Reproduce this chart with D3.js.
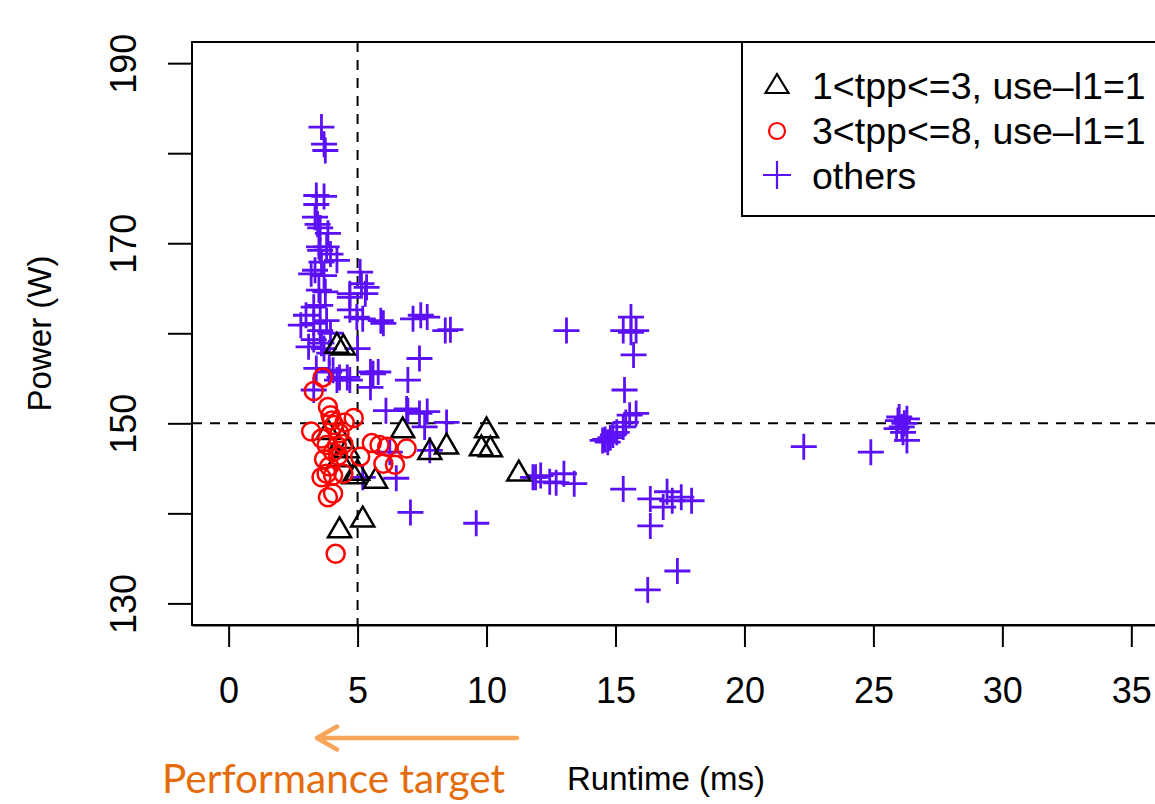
<!DOCTYPE html>
<html>
<head>
<meta charset="utf-8">
<script src="https://cdn.jsdelivr.net/npm/d3@7"></script>
<style>
  body { margin: 0; background: #fff; }
  svg { display: block; font-family: "Liberation Sans", Arial, sans-serif; }
</style>
</head>
<body>
<svg id="chart" width="1155" height="804"></svg>
<script>
// runtime (ms), power (W)
var triangles = [
  [4.2,158.6],[4.45,158.4],[3.85,149.0],[4.4,148.0],[4.6,147.0],[6.75,149.2],[7.8,146.8],
  [8.45,147.4],[10.0,149.2],[9.8,147.2],[10.15,147.1],[11.25,144.4],[4.85,144.1],[5.0,144.5],
  [5.7,143.6],[5.2,139.3],[4.3,138.1],[4.3,146.0]
];

var circles = [
  [3.65,155.1],[3.3,153.6],[3.85,151.8],[3.95,150.9],[4.5,150.1],[4.85,150.6],[3.2,149.1],
  [4.1,149.8],[4.3,148.9],[3.8,147.6],[4.45,147.7],[4.05,146.8],[4.25,146.4],[5.1,146.3],
  [5.55,147.8],[5.85,147.6],[6.15,147.4],[6.9,147.2],[6.0,145.5],[6.45,145.4],[3.8,144.4],
  [4.05,144.2],[4.45,144.4],[3.6,144.0],[3.85,141.8],[4.05,142.2],[4.15,135.5],[3.7,146.0],
  [3.9,145.2],[4.2,147.5],[3.6,148.3],[4.0,150.3]
];

var crosses = [
  [3.6,182.9],[3.7,181.0],[3.75,180.3],[3.4,175.3],[3.7,175.2],[3.4,174.3],[3.35,172.9],
  [3.45,172.1],[3.55,171.7],[3.85,171.1],[3.5,169.6],[3.8,169.6],[3.55,169.2],[3.95,168.8],
  [4.2,168.1],[3.6,167.9],[3.35,167.0],[3.2,166.6],[3.7,166.4],[5.1,166.8],[5.15,165.5],
  [5.35,165.1],[5.3,164.4],[3.5,164.8],[3.75,164.6],[4.7,164.4],[4.7,164.0],[3.3,162.9],
  [3.55,163.1],[3.0,162.0],[2.8,160.9],[3.3,161.1],[3.8,161.4],[3.55,160.3],[3.95,160.0],
  [4.7,162.6],[4.97,161.8],[5.2,161.6],[5.9,161.4],[6.0,161.1],[7.15,161.6],[7.45,162.0],
  [7.7,161.8],[8.4,160.3],[8.6,160.4],[3.7,158.3],[3.1,158.5],[3.9,157.8],[3.3,159.3],
  [3.6,158.9],[5.0,158.3],[7.4,157.2],[3.9,155.7],[4.3,155.1],[4.7,154.8],[4.2,154.8],
  [4.05,155.9],[3.4,156.1],[4.6,155.1],[5.5,155.7],[5.8,155.7],[5.6,155.5],[5.5,154.0],
  [6.95,154.8],[3.3,153.7],[6.1,151.4],[6.9,151.6],[6.95,151.4],[7.4,151.1],[7.7,151.3],
  [7.6,149.6],[8.45,150.1],[7.8,147.0],[6.25,146.8],[6.5,143.9],[5.2,144.0],[7.05,140.1],
  [9.6,138.9],[11.9,144.0],
  [13.1,160.3],[15.3,160.3],[15.6,160.1],[15.8,160.3],[15.6,161.8],[15.7,157.6],[15.35,153.7],
  [15.8,151.1],[15.55,150.9],[15.4,150.1],[15.3,149.6],[15.05,149.0],[14.9,148.7],[14.8,148.4],
  [14.6,148.2],[14.7,147.9],[14.5,148.1],[12.1,144.2],[12.45,143.5],[13.0,144.4],[13.4,143.3],
  [11.8,144.0],[12.7,143.4],[15.3,142.7],[16.35,141.6],[17.0,142.4],[16.85,140.7],[17.2,141.4],
  [17.55,141.8],[17.95,141.4],[16.35,138.6],[17.4,133.6],[16.25,131.5],
  [22.3,147.4],[24.9,146.8],[26.0,150.7],[25.95,150.3],[26.2,150.0],[26.1,149.6],[26.15,149.0],
  [26.3,148.1],[26.3,150.5],[25.9,149.4]
];

var xTicks = [0, 5, 10, 15, 20, 25, 30, 35];
var yTicks = [130, 150, 170, 190];
var yMinor = [140, 160, 180];
var legendLabels = ["1<tpp<=3, use\u2013l1=1", "3<tpp<=8, use\u2013l1=1", "others"];
var refRuntime = 5, refPower = 150, targetRuntime = 10;

var svg = d3.select("svg#chart"),
    margin = {top: 42, left: 192, bottom: 625, right: 1170};

var x = d3.scaleLinear().domain([-1.42, 36.5]).range([margin.left, margin.right]);
var y = d3.scaleLinear().domain([127.6, 192.35]).range([margin.bottom, margin.top]);

var purple = "#5b10f5", red = "#ff0000";

// plot box
svg.append("rect")
    .attr("x", margin.left).attr("y", margin.top)
    .attr("width", margin.right - margin.left).attr("height", margin.bottom - margin.top)
    .attr("fill", "none").attr("stroke", "#000").attr("stroke-width", 2);

// x axis (R style, ticks below the box)
var xa = svg.append("g").attr("transform", "translate(0," + margin.bottom + ")")
    .call(d3.axisBottom(x).tickValues(xTicks).tickSize(22).tickSizeOuter(0));
xa.select(".domain").attr("stroke-width", 2);
xa.selectAll(".tick line").attr("stroke-width", 2);
xa.selectAll(".tick text")
    .attr("font-size", 36).attr("font-family", "Liberation Sans").attr("fill", "#000")
    .attr("y", 78).attr("dy", 0);

var ya = svg.append("g").attr("transform", "translate(" + margin.left + ",0)")
    .call(d3.axisLeft(y).tickValues(yTicks.concat(yMinor)).tickSize(24).tickSizeOuter(0)
      .tickFormat(function(d) { return yTicks.indexOf(d) >= 0 ? d : ""; }));
ya.select(".domain").remove();
ya.selectAll(".tick line").attr("stroke-width", 2);
ya.selectAll(".tick text")
    .attr("font-size", 36).attr("font-family", "Liberation Sans").attr("fill", "#000")
    .attr("text-anchor", "middle").attr("x", 0).attr("dy", 0)
    .attr("transform", "translate(-69,0) rotate(-90)")
    .attr("dominant-baseline", "central");

// axis titles
svg.append("text").attr("x", 567).attr("y", 790)
    .attr("font-size", 33).text("Runtime (ms)");
svg.append("text")
    .attr("transform", "translate(51," + ((margin.top + margin.bottom) / 2) + ") rotate(-90)")
    .attr("text-anchor", "middle").attr("font-size", 33).text("Power (W)");

// reference lines
svg.append("line")
    .attr("x1", margin.left).attr("x2", margin.right)
    .attr("y1", y(refPower)).attr("y2", y(refPower))
    .attr("stroke", "#000").attr("stroke-width", 2).attr("stroke-dasharray", "10,8");
svg.append("line")
    .attr("x1", x(refRuntime)).attr("x2", x(refRuntime))
    .attr("y1", margin.top).attr("y2", margin.bottom)
    .attr("stroke", "#000").attr("stroke-width", 2).attr("stroke-dasharray", "10,8");

// points
var plot = svg.append("g");

plot.selectAll("path.cross").data(crosses).enter().append("path")
    .attr("class", "cross")
    .attr("d", function(d) {
      var cx = x(d[0]), cy = y(d[1]), r = 13;
      return "M" + (cx - r) + "," + cy + "H" + (cx + r) + "M" + cx + "," + (cy - r) + "V" + (cy + r);
    })
    .attr("stroke", purple).attr("stroke-width", 2.8).attr("fill", "none");

function triPath(cx, cy) {
  return "M" + cx + "," + (cy - 13) + "L" + (cx + 11.5) + "," + (cy + 6.8) + "L" + (cx - 11.5) + "," + (cy + 6.8) + "Z";
}

plot.selectAll("path.tri").data(triangles).enter().append("path")
    .attr("class", "tri")
    .attr("d", function(d) { return triPath(x(d[0]), y(d[1])); })
    .attr("stroke", "#000").attr("stroke-width", 2.5).attr("fill", "none");

plot.selectAll("circle").data(circles).enter().append("circle")
    .attr("cx", function(d) { return x(d[0]); })
    .attr("cy", function(d) { return y(d[1]); })
    .attr("r", 9)
    .attr("stroke", red).attr("stroke-width", 2.5).attr("fill", "none");

// legend
var lg = svg.append("g");
lg.append("rect").attr("x", 742).attr("y", margin.top).attr("width", 500).attr("height", 174)
    .attr("fill", "#fff").attr("stroke", "#000").attr("stroke-width", 2);
var rowY = [85, 130, 175];
lg.append("path").attr("d", "M777,74L788.5,93L765.5,93Z")
    .attr("fill", "none").attr("stroke", "#000").attr("stroke-width", 2.2);
lg.append("circle").attr("cx", 777).attr("cy", rowY[1] + 1).attr("r", 8)
    .attr("fill", "none").attr("stroke", red).attr("stroke-width", 2.2);
lg.append("path").attr("d", "M763," + rowY[2] + "H791M777," + (rowY[2] - 14) + "V" + (rowY[2] + 14))
    .attr("fill", "none").attr("stroke", purple).attr("stroke-width", 2.2);
lg.selectAll("text").data(legendLabels).enter().append("text")
    .attr("x", 812).attr("y", function(d, i) { return rowY[i]; })
    .attr("dy", "0.36em").attr("font-size", 37.5)
    .text(function(d) { return d; });

// slide overlay: target line, arrow and caption
var defs = svg.append("defs");
var sh = defs.append("filter").attr("id", "shadow").attr("x", "-50%").attr("y", "-5%").attr("width", "200%").attr("height", "110%");
sh.append("feDropShadow").attr("dx", 1.5).attr("dy", 2).attr("stdDeviation", 2).attr("flood-color", "#000").attr("flood-opacity", 0.35);

svg.append("line")
    .attr("x1", x(targetRuntime)).attr("x2", x(targetRuntime))
    .attr("y1", 8).attr("y2", 655)
    .attr("stroke", "#e8820c").attr("stroke-width", 8.5)
    .attr("filter", "url(#shadow)");

svg.append("path")
    .attr("d", "M517,738H318M337,726.5L317,738L337,749.5")
    .attr("fill", "none").attr("stroke", "#f9a65a").attr("stroke-width", 4.5)
    .attr("stroke-linecap", "round").attr("stroke-linejoin", "round");

svg.append("text").attr("x", 162).attr("y", 793)
    .attr("font-family", "Lato, 'Open Sans', sans-serif").attr("font-size", 40)
    .attr("fill", "#e46c0a").attr("textLength", 343).attr("lengthAdjust", "spacingAndGlyphs")
    .text("Performance target");
</script>
</body>
</html>
